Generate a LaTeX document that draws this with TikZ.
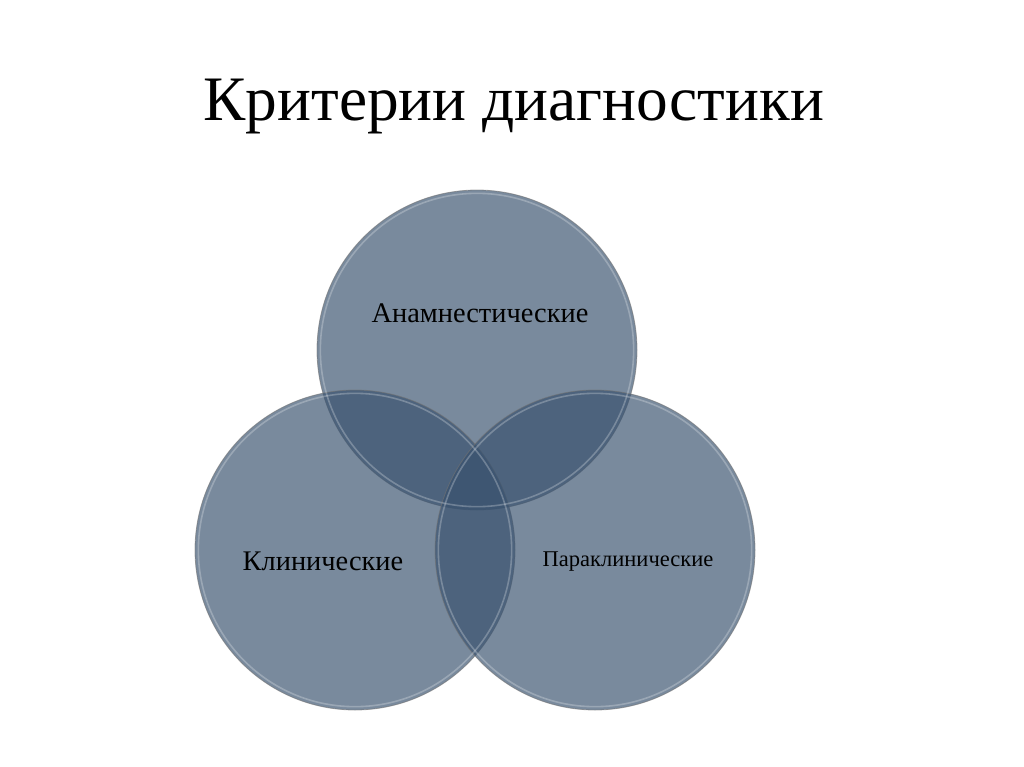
\documentclass[tikz,border=0pt]{standalone}
\usepackage{fontspec}
\setmainfont{Liberation Serif}
\definecolor{disc}{RGB}{56,81,110}
\tikzset{
  crit/.style={circle, minimum size=240pt, inner sep=0pt, fill=disc, fill opacity=0.67,
    draw=black!55, draw opacity=0.6, line width=0.6pt},
  rim/.style={circle, minimum size=235pt, inner sep=0pt, draw=white, draw opacity=0.25, line width=1.2pt},
  lbl/.style={anchor=base, text=black, font=\fontsize{21.3}{24}\selectfont}
}
\begin{document}
\begin{tikzpicture}[x=0.75pt, y=-0.75pt]
		%%%%% FRAME %%%%%
		\useasboundingbox[fill=white] (0, 0) rectangle (1024, 767);
		
		\node[anchor=base, font=\fontsize{47.5}{54}\selectfont] (title) at (514, 120) {Критерии диагностики};
		
		%%%%% CIRCLES %%%%%
		\node[crit] (anam) at (477, 350) {};
		\node[crit] (clin) at (355, 550) {};
		\node[crit] (para) at (595, 550) {};
		
		\node[rim] at (anam) {};
		\node[rim] at (clin) {};
		\node[rim] at (para) {};
		
		%%%%% LABELS %%%%%
		\node[lbl] (anamlbl) at (480, 322) {Анамнестические};
		\node[lbl] (clinlbl) at (323, 570) {Клинические};
		\node[lbl, font=\fontsize{16.9}{19}\selectfont] (paralbl) at (628, 566) {Параклинические};
		
		%%%%% END %%%%%
\end{tikzpicture}
\end{document}
